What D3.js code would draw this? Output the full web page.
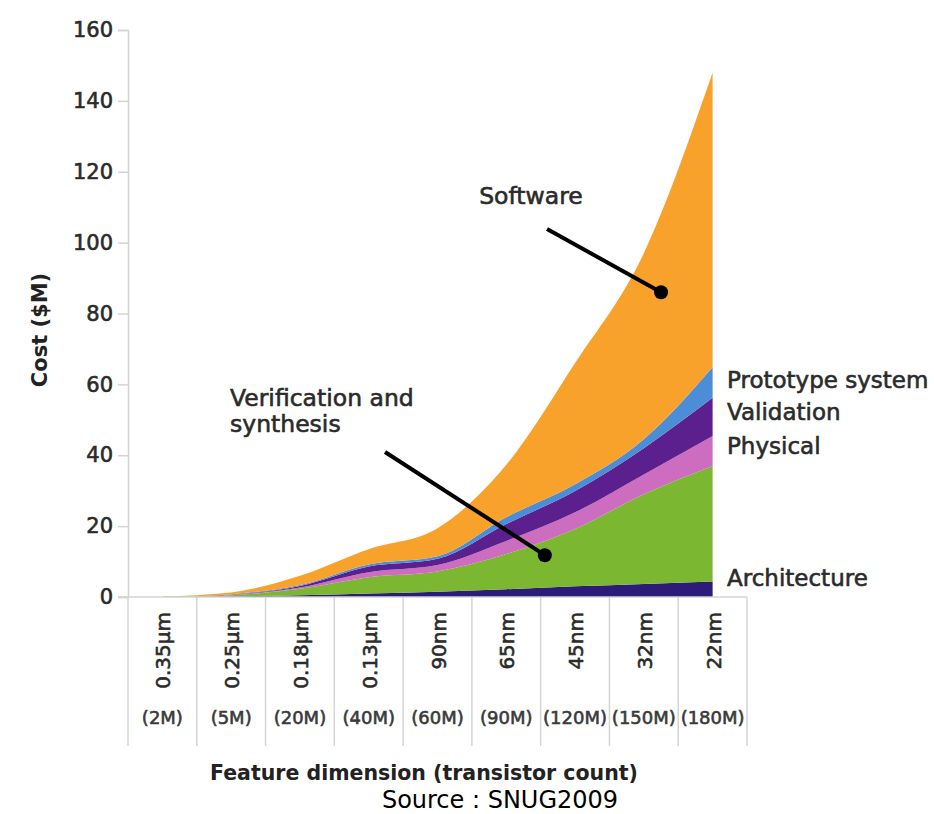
<!DOCTYPE html>
<html>
<head>
<meta charset="utf-8">
<script src="https://cdn.jsdelivr.net/npm/d3@7"></script>
<style>
  html, body { margin: 0; padding: 0; background: #fff; }
  svg { display: block; }
  text { font-family: "DejaVu Sans", sans-serif; }
  .heavy { stroke-width: 0.6px; paint-order: stroke; }
</style>
</head>
<body>
<svg id="chart" width="934" height="814"></svg>
<script>
// Process nodes and transistor counts
const categories = ["0.35µm", "0.25µm", "0.18µm", "0.13µm", "90nm", "65nm", "45nm", "32nm", "22nm"];
const transistorCounts = ["(2M)", "(5M)", "(20M)", "(40M)", "(60M)", "(90M)", "(120M)", "(150M)", "(180M)"];

// Cost per design activity ($M), stacked bottom to top
const architecture  = [0, 0.2, 0.5, 1.0, 1.5, 2.2, 3.0, 3.7, 4.4];
const verification  = [0, 0.3, 1.8, 4.6, 5.7, 9.9, 16.2, 25.3, 32.6];
const physical      = [0, 0.1, 0.4, 1.4, 1.8, 3.7, 4.7, 5.6, 8.4];
const validation    = [0, 0.1, 0.4, 1.6, 1.8, 4.8, 6.0, 7.4, 10.8];
const prototype     = [0, 0.1, 0.3, 0.6, 0.7, 1.9, 1.9, 2.5, 8.6];
const software      = [0.2, 0.5, 2.6, 4.3, 7.9, 14.8, 34.2, 52.5, 83.2];

const yTicks = [0, 20, 40, 60, 80, 100, 120, 140, 160];

const seriesKeys = ["architecture", "verification", "physical", "validation", "prototype", "software"];
const seriesColors = {
  architecture: "#2c1b78",
  verification: "#7cb731",
  physical: "#cd6dbf",
  validation: "#5b1f8e",
  prototype: "#4c8dd8",
  software: "#f8a22c"
};
const sideLabels = [
  { key: "prototype", text: "Prototype system" },
  { key: "validation", text: "Validation" },
  { key: "physical", text: "Physical" },
  { key: "architecture", text: "Architecture" }
];

const rows = categories.map((c, i) => ({
  node: c,
  architecture: architecture[i],
  verification: verification[i],
  physical: physical[i],
  validation: validation[i],
  prototype: prototype[i],
  software: software[i]
}));

const svg = d3.select("#chart");
const plotLeft = 128, plotRight = 747, plotTop = 30, baseY = 597, tableBottom = 746;
const textColor = "#2b2b2b";

const x = d3.scaleBand().domain(categories).range([plotLeft, plotRight]).padding(0);
const y = d3.scaleLinear().domain([0, 160]).range([baseY, plotTop]);
const cx = d => x(d) + x.bandwidth() / 2;

const stacked = d3.stack().keys(seriesKeys)(rows);

const area = d3.area()
  .x(d => cx(d.data.node))
  .y0(d => y(d[0]))
  .y1(d => y(d[1]))
  .curve(d3.curveMonotoneX);

// Stacked cost areas
svg.append("g")
  .selectAll("path")
  .data(stacked)
  .join("path")
  .attr("d", area)
  .attr("fill", s => seriesColors[s.key]);

// Table grid under the plot: column separators
const lineColor = "#d4d4d4";
const bounds = categories.map(c => x(c)).concat([plotRight]);
svg.append("g")
  .selectAll("line")
  .data(bounds)
  .join("line")
  .attr("x1", d => d).attr("x2", d => d)
  .attr("y1", baseY).attr("y2", tableBottom)
  .attr("stroke", lineColor).attr("stroke-width", 1.5);

// Baseline
svg.append("line")
  .attr("x1", plotLeft - 10).attr("x2", plotRight)
  .attr("y1", baseY).attr("y2", baseY)
  .attr("stroke", lineColor).attr("stroke-width", 1.5);

// Y axis
const yAxis = svg.append("g")
  .attr("transform", `translate(${plotLeft},0)`)
  .call(d3.axisLeft(y).tickValues(yTicks).tickSize(10).tickPadding(5));
yAxis.select(".domain").attr("stroke", lineColor).attr("stroke-width", 1.5);
yAxis.selectAll(".tick line").attr("stroke", lineColor).attr("stroke-width", 1.5);
yAxis.selectAll(".tick text")
  .attr("class", "heavy")
  .attr("font-size", 21)
  .attr("font-family", "DejaVu Sans, sans-serif")
  .attr("fill", textColor)
  .attr("stroke", textColor);

// Process node labels (rotated) and transistor counts
svg.append("g")
  .selectAll("text")
  .data(categories)
  .join("text")
  .attr("class", "heavy")
  .attr("transform", d => `translate(${cx(d) + 1},612) rotate(-90)`)
  .attr("text-anchor", "end")
  .attr("dominant-baseline", "central")
  .attr("font-size", 20)
  .attr("fill", textColor)
  .attr("stroke", textColor)
  .text(d => d);

svg.append("g")
  .selectAll("text")
  .data(transistorCounts)
  .join("text")
  .attr("class", "heavy")
  .attr("x", (d, i) => cx(categories[i]))
  .attr("y", 717)
  .attr("text-anchor", "middle")
  .attr("dominant-baseline", "central")
  .attr("font-size", 18)
  .attr("fill", "#3a3a3a")
  .attr("stroke", "#3a3a3a")
  .attr("stroke-width", 0.3)
  .text(d => d);

// Axis titles
svg.append("text")
  .attr("transform", "translate(40,330) rotate(-90)")
  .attr("text-anchor", "middle")
  .attr("dominant-baseline", "central")
  .attr("font-size", 21)
  .attr("font-weight", "bold")
  .attr("fill", "#222")
  .text("Cost ($M)");

svg.append("text")
  .attr("x", 424).attr("y", 773)
  .attr("text-anchor", "middle")
  .attr("dominant-baseline", "central")
  .attr("font-size", 20.5)
  .attr("font-weight", "bold")
  .attr("fill", "#222")
  .text("Feature dimension (transistor count)");

svg.append("text")
  .attr("x", 500).attr("y", 800)
  .attr("text-anchor", "middle")
  .attr("dominant-baseline", "central")
  .attr("font-family", "Liberation Sans, Arial, sans-serif")
  .attr("font-size", 24)
  .attr("fill", "#000")
  .text("Source : SNUG2009");

// Series names at the right edge
const sideY = { prototype: 380, validation: 412, physical: 446, architecture: 578 };
svg.append("g")
  .selectAll("text")
  .data(sideLabels)
  .join("text")
  .attr("class", "heavy")
  .attr("x", plotRight - 20)
  .attr("y", d => sideY[d.key])
  .attr("dominant-baseline", "central")
  .attr("font-size", 23)
  .attr("fill", textColor)
  .attr("stroke", textColor)
  .text(d => d.text);

// Callouts
const callouts = [
  { lines: ["Software"], tx: 531, ty: 196, anchor: "middle", from: [547, 229], node: "32nm", frac: 0.25, value: 86 },
  { lines: ["Verification and", "synthesis"], tx: 230, ty: 398, anchor: "start", from: [385, 452], node: "65nm", frac: 0.56, value: 11.8 }
];
callouts.forEach(c => {
  const px = cx(c.node) + c.frac * x.bandwidth();
  const py = y(c.value);
  svg.append("line")
    .attr("x1", c.from[0]).attr("y1", c.from[1])
    .attr("x2", px).attr("y2", py)
    .attr("stroke", "#000").attr("stroke-width", 4);
  svg.append("circle").attr("cx", px).attr("cy", py).attr("r", 7).attr("fill", "#000");
  c.lines.forEach((t, i) => {
    svg.append("text")
      .attr("class", "heavy")
      .attr("x", c.tx).attr("y", c.ty + i * 26)
      .attr("text-anchor", c.anchor)
      .attr("dominant-baseline", "central")
      .attr("font-size", 23.5)
      .attr("fill", textColor)
      .attr("stroke", textColor)
      .text(t);
  });
});
</script>
</body>
</html>
